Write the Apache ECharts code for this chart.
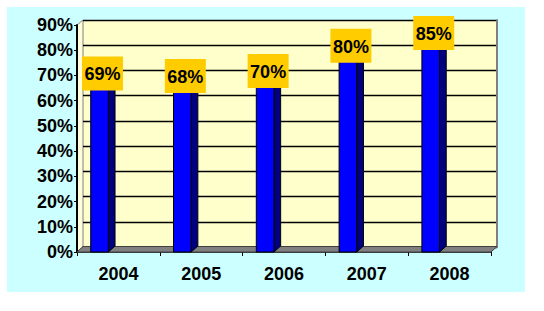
<!DOCTYPE html>
<html>
<head>
<meta charset="utf-8">
<script src="https://cdn.jsdelivr.net/npm/echarts@6/dist/echarts.min.js"></script>
<style>
html,body{margin:0;padding:0;background:#ffffff;}
#chart{width:544px;height:311px;}
</style>
</head>
<body>
<div id="chart"></div>
<script>
var categories = ['2004', '2005', '2006', '2007', '2008'];
var values = [69, 68, 70, 80, 85];
var yTicks = [0, 10, 20, 30, 40, 50, 60, 70, 80, 90];

var chart = echarts.init(document.getElementById('chart'), null, {renderer: 'svg'});
var FONT = 'Liberation Sans, Arial, sans-serif';

var option = {
  animation: false,
  backgroundColor: '#ffffff',
  graphic: [
    {type: 'rect', z: -10, shape: {x: 7, y: 7, width: 518, height: 285}, style: {fill: '#CCFFFF'}},
    // left side wall
    {type: 'polygon', z: -5, shape: {points: [[77, 25], [83, 20], [83, 247], [77, 252]]}, style: {fill: '#FFFFDD', stroke: '#808080', lineWidth: 1}},
    // floor
    {type: 'polygon', z: 1, shape: {points: [[77, 252], [83, 246.5], [497, 246.5], [491, 252]]}, style: {fill: '#808080', stroke: '#404040', lineWidth: 1}}
  ],
  grid: [
    {left: 83, top: 20, width: 414, height: 227, show: true, backgroundColor: '#FFFFCC', borderWidth: 0, z: -6},
    {left: 77, top: 25, width: 414, height: 227}
  ],
  xAxis: [
    {type: 'category', gridIndex: 0, data: categories, position: 'top',
      axisLine: {show: true, lineStyle: {color: '#808080', width: 2}},
      axisTick: {show: false}, axisLabel: {show: false}, splitLine: {show: false}},
    {type: 'category', gridIndex: 1, data: categories,
      axisLine: {show: true, lineStyle: {color: '#000000', width: 1.5}},
      axisTick: {show: true, length: 4, lineStyle: {color: '#000000'}},
      axisLabel: {margin: 13, fontSize: 18, fontWeight: 'bold', color: '#000000', fontFamily: FONT}}
  ],
  yAxis: [
    {type: 'value', gridIndex: 0, min: 0, max: 90, interval: 10, position: 'right',
      axisLine: {show: true, lineStyle: {color: '#808080', width: 2}},
      axisTick: {show: false}, axisLabel: {show: false},
      splitLine: {show: true, lineStyle: {color: '#000000', width: 1.3}}},
    {type: 'value', gridIndex: 1, min: 0, max: 90, interval: 10,
      axisLine: {show: true, lineStyle: {color: '#000000', width: 2}},
      axisTick: {show: true, length: 3, lineStyle: {color: '#000000'}},
      splitLine: {show: false},
      axisLabel: {margin: 4, fontSize: 18, fontWeight: 'bold', color: '#000000', fontFamily: FONT,
        formatter: function (v) { return v + '%'; }}}
  ],
  series: [{
    type: 'custom',
    xAxisIndex: 1,
    yAxisIndex: 1,
    z: 5,
    data: values.map(function (v, i) { return [i, v]; }),
    renderItem: function (params, api) {
      var top = api.coord([api.value(0), api.value(1)]);
      var base = api.coord([api.value(0), 0]);
      var cw = api.size([1, 0])[0];
      var w = cw * 0.213;
      var x0 = top[0] - cw * 0.3345;
      var dx = cw * 0.081;
      var dy = 6;
      var cx = x0 + w / 2 + 3;
      var cy = top[1] - 4.5;
      return {
        type: 'group',
        children: [
          {type: 'polygon', shape: {points: [[x0 + w, top[1]], [x0 + w + dx, top[1] - dy], [x0 + w + dx, base[1] - dy], [x0 + w, base[1]]]},
            style: {fill: '#000080', stroke: '#000000', lineWidth: 1}},
          {type: 'polygon', shape: {points: [[x0, top[1]], [x0 + dx, top[1] - dy], [x0 + w + dx, top[1] - dy], [x0 + w, top[1]]]},
            style: {fill: '#0000CC', stroke: '#000000', lineWidth: 1}},
          {type: 'rect', shape: {x: x0, y: top[1], width: w, height: base[1] - top[1]},
            style: {fill: '#0000FF', stroke: '#000000', lineWidth: 1}},
          {type: 'rect', shape: {x: cx - 20.5, y: cy - 17, width: 41, height: 34},
            style: {fill: '#FFCC00'}},
          {type: 'text', x: cx, y: cy + 1,
            style: {text: api.value(1) + '%', fill: '#000000', font: 'bold 18px ' + FONT,
              align: 'center', verticalAlign: 'middle'}}
        ]
      };
    }
  }]
};
chart.setOption(option);
</script>
</body>
</html>
